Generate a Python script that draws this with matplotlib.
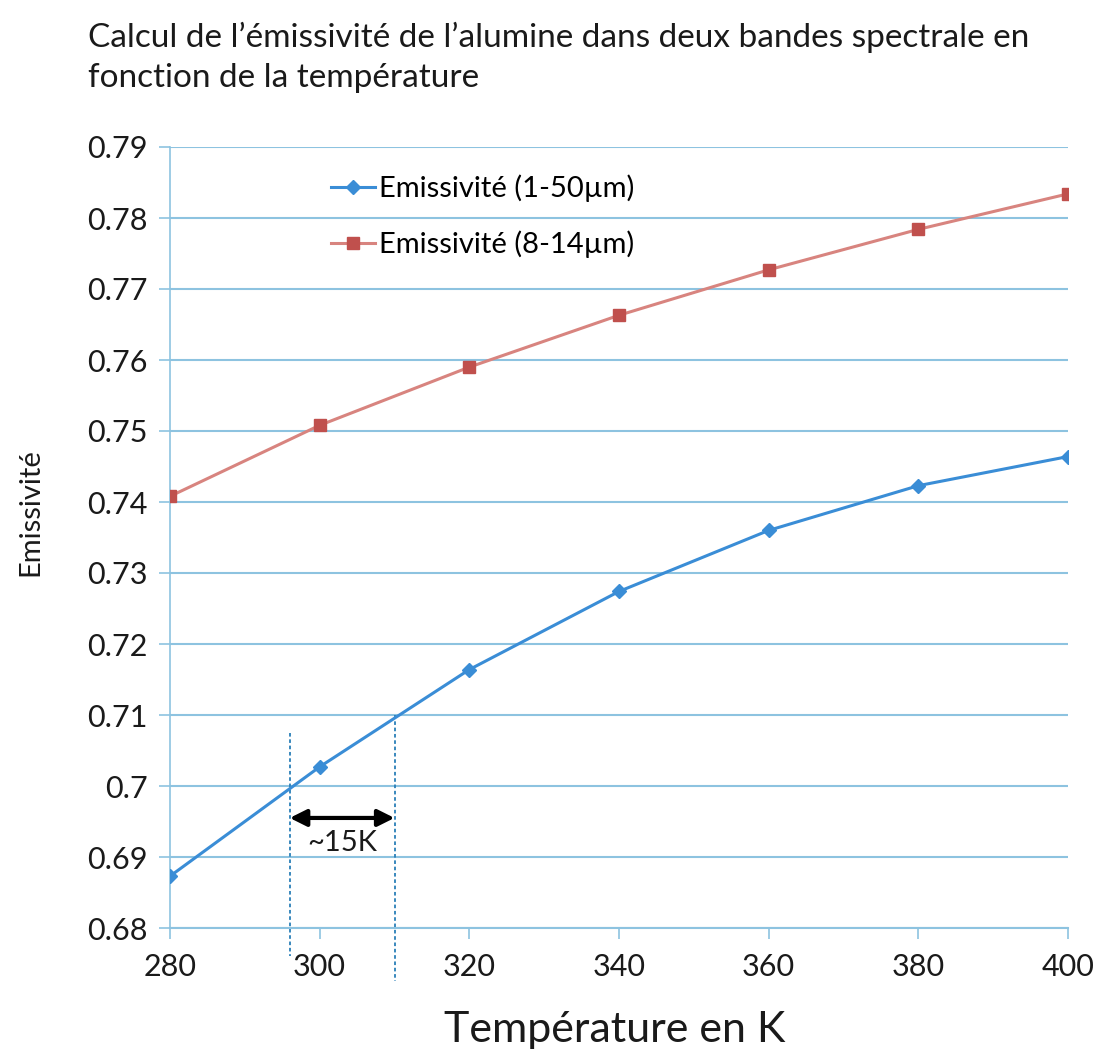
import matplotlib
matplotlib.use("Agg")
import matplotlib.pyplot as plt

# Data
temperatures = [280, 300, 320, 340, 360, 380, 400]
emis_1_50 = [0.6873, 0.7027, 0.7164, 0.7274, 0.7360, 0.7423, 0.7464]
emis_8_14 = [0.7408, 0.7508, 0.7590, 0.7663, 0.7727, 0.7784, 0.7834]
label_1_50 = "Emissivité (1-50µm)"
label_8_14 = "Emissivité (8-14µm)"
x_ticks = [280, 300, 320, 340, 360, 380, 400]
y_ticks = [0.68, 0.69, 0.70, 0.71, 0.72, 0.73, 0.74, 0.75, 0.76, 0.77, 0.78, 0.79]
y_tick_labels = ["0.68", "0.69", "0.7", "0.71", "0.72", "0.73", "0.74", "0.75",
                 "0.76", "0.77", "0.78", "0.79"]
span_left, span_right = 296, 310
span_label = "~15K"
title = "Calcul de l\u2019émissivité de l\u2019alumine dans deux bandes spectrale en\nfonction de la température"
xlabel = "Température en K"
ylabel = "Emissivité"

plt.rcParams['font.family'] = ['Lato', 'DejaVu Sans']

grid_c = '#8dc3e0'
blue = '#3a8dd6'
red_m = '#c0504d'
red_l = '#d8847f'

fig = plt.figure(figsize=(11.01, 10.59), dpi=100)
ax = fig.add_axes([170/1101, 1-928/1059, (1068-170)/1101, (928-147)/1059])

ax.plot(temperatures, emis_1_50, color=blue, lw=2.2, marker='D', ms=7,
        mfc=blue, mec=blue, label=label_1_50, zorder=3)
ax.plot(temperatures, emis_8_14, color=red_l, lw=2.2, marker='s', ms=9,
        mfc=red_m, mec=red_m, label=label_8_14, zorder=3)

ax.set_xlim(280, 400)
ax.set_ylim(0.68, 0.79)
ax.set_xticks(x_ticks)
ax.set_yticks(y_ticks)
ax.set_yticklabels(y_tick_labels)
ax.tick_params(axis='both', labelsize=22, colors=grid_c, labelcolor='#1a1a1a',
               length=8, width=1.2)
ax.tick_params(axis='x', pad=10)
ax.tick_params(axis='y', pad=8)
ax.grid(axis='y', color=grid_c, lw=1.5)
ax.set_axisbelow(True)
for s in ['top', 'right']:
    ax.spines[s].set_visible(False)
ax.spines['left'].set_color(grid_c)
ax.spines['bottom'].set_color(grid_c)
ax.spines['left'].set_linewidth(1.2)
ax.spines['bottom'].set_linewidth(1.5)

# dotted verticals
ax.plot([span_left, span_left], [0.7075, 0.6760], ls=(0, (2, 1.5)), color='#2a7fb8',
        lw=1.3, clip_on=False, zorder=2)
ax.plot([span_right, span_right], [0.7100, 0.6725], ls=(0, (2, 1.5)), color='#2a7fb8',
        lw=1.3, clip_on=False, zorder=2)
ax.annotate('', xy=(span_left, 0.6955), xytext=(span_right, 0.6955),
            arrowprops=dict(arrowstyle='<|-|>', color='black', lw=3,
                            mutation_scale=25, shrinkA=0, shrinkB=0))
ax.text((span_left + span_right) / 2, 0.6920, span_label, fontsize=21,
        ha='center', va='center', color='#1a1a1a')

leg = ax.legend(loc='upper left', bbox_to_anchor=(0.15, 0.998), frameon=False,
                fontsize=21, handlelength=1.5, handletextpad=0.15,
                labelspacing=0.95)

fig.text(88/1101, 1-22/1059, title, fontsize=24, ha='left', va='top',
         color='#1a1a1a', linespacing=1.4)
fig.text(30/1101, 1-512/1059, ylabel, fontsize=21, rotation=90, ha='center',
         va='center', color='#1a1a1a')
fig.text(615/1101, 1-1030/1059, xlabel, fontsize=31, ha='center', va='center',
         color='#1a1a1a')

fig.savefig('out.png', dpi=100)
